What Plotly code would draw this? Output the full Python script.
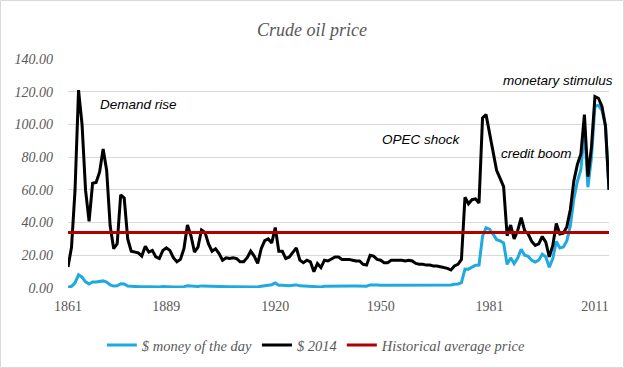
import plotly.graph_objects as go

years = list(range(1861, 2016))

money_of_day = [
    0.49, 1.05, 3.15, 8.06, 6.59, 3.74, 2.41, 3.63, 3.64, 3.86,
    4.34, 3.64, 1.83, 1.17, 1.35, 2.56, 2.42, 1.19, 0.86, 0.95,
    0.86, 0.78, 1.00, 0.84, 0.88, 0.71, 0.67, 0.88, 0.94, 0.87,
    0.67, 0.56, 0.64, 0.84, 1.36, 1.18, 0.79, 0.91, 1.29, 1.19,
    0.96, 0.80, 0.94, 0.86, 0.62, 0.73, 0.72, 0.72, 0.70, 0.61,
    0.61, 0.74, 0.95, 0.81, 0.64, 1.10, 1.56, 1.98, 2.01, 3.07,
    1.73, 1.61, 1.34, 1.43, 1.68, 1.88, 1.30, 1.17, 1.27, 1.19,
    0.65, 0.87, 0.67, 1.00, 0.97, 1.09, 1.18, 1.13, 1.02, 1.02,
    1.14, 1.19, 1.20, 1.21, 1.05, 1.12, 1.90, 1.99, 1.80, 1.71,
    1.71, 1.71, 1.93, 1.93, 1.93, 1.93, 1.90, 2.08, 2.08, 1.90,
    1.80, 1.80, 1.80, 1.80, 1.80, 1.80, 1.80, 1.80, 1.80, 1.80,
    2.24, 2.48, 3.29, 11.58, 11.53, 12.80, 13.92, 14.02, 31.61, 36.83,
    35.93, 32.97, 29.55, 28.78, 27.56, 14.43, 18.44, 14.92, 18.23, 23.73,
    20.00, 19.32, 16.97, 15.82, 17.02, 20.67, 19.09, 12.72, 17.97, 28.50,
    24.44, 25.02, 28.83, 38.27, 54.52, 65.14, 72.39, 97.26, 61.67, 79.50,
    111.26, 111.67, 108.66, 98.95, 60.0,
]

dollars_2014 = [
    12.9, 24.9, 59.8, 121.0, 100.0, 59.8, 40.7, 64.0, 64.5, 71.0,
    85.0, 72.0, 38.0, 24.0, 27.0, 57.0, 55.0, 30.0, 22.5, 22.0,
    21.5, 19.5, 25.5, 22.0, 23.0, 19.0, 18.0, 23.0, 24.5, 23.0,
    18.5, 16.0, 17.5, 24.0, 38.5, 32.0, 22.0, 25.0, 35.5, 34.0,
    27.0, 22.5, 24.0, 21.0, 17.0, 18.5, 18.0, 18.5, 18.0, 16.0,
    16.0, 18.5, 22.5, 19.5, 15.0, 24.0, 29.0, 30.0, 27.5, 37.0,
    22.5, 22.5, 18.0, 19.0, 22.0, 24.5, 17.0, 15.5, 17.0, 16.0,
    10.0, 15.0, 12.5, 17.0, 16.5, 18.0, 19.0, 19.0, 17.5, 17.5,
    17.5, 17.0, 16.5, 16.5, 14.5, 14.0, 20.0, 19.5, 17.5, 17.0,
    15.5, 15.5, 17.0, 17.0, 17.0, 17.0, 16.5, 17.0, 16.5, 15.0,
    14.5, 14.5, 14.0, 14.0, 13.5, 13.5, 13.0, 12.5, 12.0, 11.0,
    13.5, 14.5, 17.5, 55.5, 51.5, 54.0, 54.5, 52.0, 104.0, 106.0,
    94.0, 82.0, 72.0, 67.0, 62.0, 32.0, 38.5, 30.0, 35.0, 43.0,
    35.0, 33.0, 28.5, 26.0, 27.0, 31.5, 28.0, 19.0, 26.0, 39.5,
    33.0, 33.5, 37.5, 48.0, 65.5, 75.5, 82.0, 106.0, 68.0, 86.0,
    117.0, 116.0, 111.0, 99.0, 60.0,
]

historical_average = 34.0
tick_years = [1861, 1889, 1920, 1950, 1981, 2011]
y_ticks = [0, 20, 40, 60, 80, 100, 120, 140]

series_names = ["$ money of the day", "$ 2014", "Historical average price"]
annotation_texts = ["Demand rise", "OPEC shock", "credit boom", "monetary stimulus"]
annotation_pos = [(1881, 112), (1961.5, 90.5), (1994.5, 82.5), (2000.5, 127)]

serif = "Liberation Serif"
grey = "#595959"

fig = go.Figure()
fig.add_trace(go.Scatter(x=years, y=money_of_day, mode="lines", name=series_names[0],
                         line=dict(color="#1fa9e1", width=3)))
fig.add_trace(go.Scatter(x=years, y=dollars_2014, mode="lines", name=series_names[1],
                         line=dict(color="#000000", width=3)))
fig.add_trace(go.Scatter(x=[years[0], years[-1]], y=[historical_average] * 2, mode="lines",
                         name=series_names[2], line=dict(color="#b20000", width=3)))

for txt, (ax, ay) in zip(annotation_texts, annotation_pos):
    fig.add_annotation(x=ax, y=ay, text=txt, showarrow=False,
                       font=dict(family="Liberation Sans", size=13.5, color="#000000", style="italic"))

L, R, T, B = 68, 15, 59, 80
W, H = 624, 368
pw, ph = W - L - R, H - T - B
fig.add_shape(type="rect", xref="paper", yref="paper",
              x0=(0.5 - L) / pw, x1=(W - 0.5 - L) / pw,
              y0=-(B - 0.5) / ph, y1=1 + (T - 0.5) / ph,
              line=dict(color="#d9d9d9", width=1))

fig.update_layout(
    width=W, height=H,
    margin=dict(l=L, r=R, t=T, b=B, autoexpand=False),
    paper_bgcolor="white", plot_bgcolor="white",
    title=dict(text="Crude oil price", x=0.5, xref="container", xanchor="center",
               y=1 - 30 / H, yref="container", yanchor="middle",
               font=dict(family=serif, size=18, color=grey, style="italic")),
    xaxis=dict(range=[1861, 2015], tickvals=tick_years, ticktext=[str(t) for t in tick_years],
               showgrid=False, zeroline=False, showline=False, ticks="",
               tickfont=dict(family=serif, size=14, color=grey), ticklabelstandoff=8),
    yaxis=dict(range=[0, 140], tickvals=y_ticks, tickformat=".2f",
               showgrid=True, gridcolor="#d9d9d9", gridwidth=1, zeroline=False,
               showline=False, ticks="",
               tickfont=dict(family=serif, size=14, color=grey, style="italic"),
               ticklabelstandoff=14),
    legend=dict(orientation="h", x=0.46, xanchor="center", y=(288 - 345) / ph, yanchor="middle",
                font=dict(family=serif, size=14.5, color=grey, style="italic"),
                itemwidth=30, traceorder="normal", bgcolor="rgba(0,0,0,0)"),
    showlegend=True,
)

fig.write_html("out.html", config={"displayModeBar": False},
               post_script="document.body.style.margin='0';")
